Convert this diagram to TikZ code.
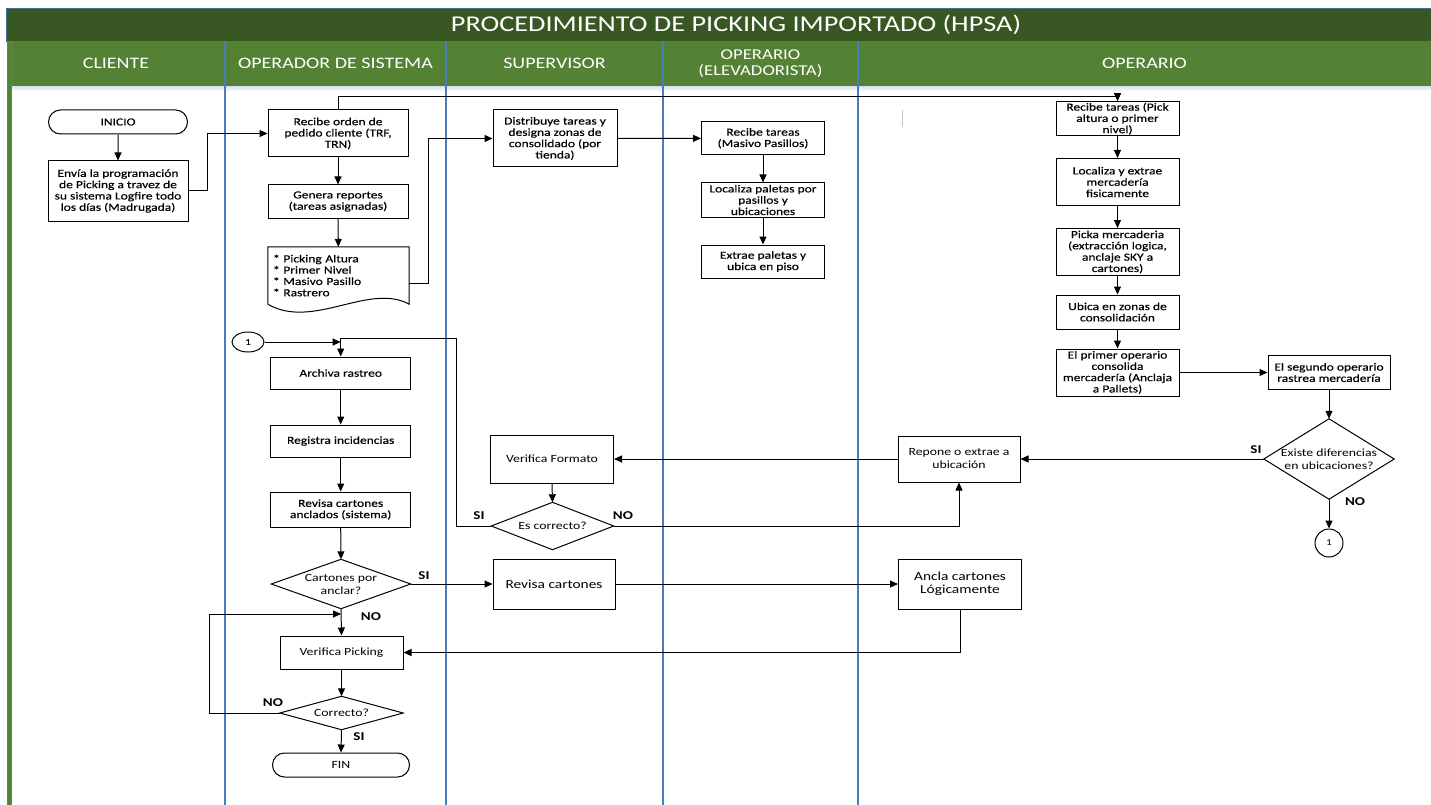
\documentclass[tikz,border=0pt]{standalone}
\usepackage{fontspec}
\setmainfont{Carlito}[FakeStretch=1.25]
\newfontfamily\heavyfam{Carlito}[FakeStretch=1.25, FakeBold=0.35]
\usetikzlibrary{arrows.meta,shapes.misc,shapes.geometric}
\definecolor{titlegreen}{HTML}{385723}
\definecolor{headgreen}{HTML}{548235}
\definecolor{laneblue}{HTML}{4A7EBB}
\definecolor{edgeblue}{HTML}{41719C}
\definecolor{haze}{HTML}{D6E3F3}
\newcommand\boxtxt{\heavyfam\fontsize{10.8}{11.3}\selectfont}
\newcommand\lowtxt{\fontsize{11}{13}\selectfont}
\newcommand\bigtxt{\fontsize{12.3}{13.5}\selectfont}
\newcommand\headtxt{\fontsize{16}{17}\selectfont}
\newcommand\titletxt{\fontsize{22.6}{24}\selectfont}
\newcommand\tagtxt{\bfseries\fontsize{12}{13}\selectfont}
\tikzset{
  line/.style={draw=black, line width=1pt},
  flow/.style={line, -{Triangle[length=8pt,width=7pt]}},
  stepbox/.style={draw=black, line width=1pt, fill=white, align=center, inner sep=1pt, font=\boxtxt},
  lowbox/.style={stepbox, font=\lowtxt},
  sz/.style 2 args={minimum width=#1pt, minimum height=#2pt},
  term/.style={rounded rectangle, draw=black, line width=1pt, inner sep=1pt, font=\boxtxt},
  decision/.style={inner sep=0pt, align=center, font=\lowtxt},
  conn/.style={ellipse, draw=black, line width=1pt, inner sep=0pt, font=\heavyfam\fontsize{9}{10}\selectfont},
  tag/.style={font=\tagtxt, inner sep=0pt},
  lane/.style={draw=laneblue, line width=1.5pt},
  headlabel/.style={text=white, font=\headtxt, align=center},
}
\begin{document}
\begin{tikzpicture}[x=1pt,y=-1pt]
\useasboundingbox (0,0) rectangle (1431,805);
\fill[white] (0,0) rectangle (1431,805);

% title bar and lane header
\filldraw[fill=titlegreen, draw=edgeblue, line width=0.8pt] (6.5,8) rectangle (1433,41);
\fill[headgreen] (6.5,41) rectangle (1433,86);
\draw[edgeblue, line width=0.8pt] (6.5,86) -- (1433,86);
\shade[top color=haze, bottom color=white] (11,86.6) rectangle (1431,91);
\node[text=white, font=\titletxt] (title) at (736,25) {PROCEDIMIENTO DE PICKING IMPORTADO (HPSA)};
\node[headlabel] (hcli) at (116,63.5) {CLIENTE};
\node[headlabel] (hops) at (335.5,63.5) {OPERADOR DE SISTEMA};
\node[headlabel] (hsup) at (554.5,63.5) {SUPERVISOR};
\node[headlabel, font=\fontsize{15}{15.5}\selectfont] (helev) at (760.5,63.5) {OPERARIO\\(ELEVADORISTA)};
\node[headlabel] (hopr) at (1144.5,63.5) {OPERARIO};

% lanes
\filldraw[fill=headgreen, draw=laneblue, line width=0.8pt] (7,41) rectangle (11,806);
\foreach \lx in {225,446,663,858} \draw[lane] (\lx,41) -- (\lx,806);
\draw[gray!45, line width=1pt] (902,110) -- (902,127);

% CLIENTE
\node[term, sz={141}{24}] (inicio) at (118,122) {INICIO};
\node[stepbox, sz={140}{60}] (envia) at (118,191) {Envía la programación\\de Picking a travez de\\su sistema Logfire todo\\los días (Madrugada)};

% OPERADOR DE SISTEMA
\node[stepbox, sz={140}{47}] (recibe) at (338,133.5) {Recibe orden de\\pedido cliente (TRF,\\TRN)};
\node[stepbox, sz={140}{33}] (genera) at (338,201.5) {Genera reportes\\(tareas asignadas)};
\node[inner sep=1pt, sz={141}{57}, text width=131pt, align=left, font=\boxtxt] (tipos) at (338.5,275.5)
  {* Picking Altura\\{}* Primer Nivel\\{}* Masivo Pasillo\\{}* Rastrero};
\draw[line] (tipos.south west) -- (tipos.north west) -- (tipos.north east) -- (tipos.south east)
  .. controls +(-40,-22) and +(45,26) .. (tipos.south west);
\node[conn, minimum width=32pt, minimum height=20pt] (c1a) at (248,342) {1};
\coordinate (j1) at (340.7,338);
\node[stepbox, sz={140}{32}] (archiva) at (340.7,373) {Archiva rastreo};
\node[stepbox, sz={140}{32}] (registra) at (340.7,441) {Registra incidencias};
\node[stepbox, sz={140}{35}] (revanc) at (340.7,509.5) {Revisa cartones\\anclados (sistema)};
\node[decision, sz={139}{49}] (cartones) at (341,584) {Cartones por\\anclar?};
\coordinate (jloop) at (341,614);
\node[lowbox, sz={123}{33}] (verpick) at (341.5,652.5) {Verifica Picking};
\node[decision, sz={123}{33}] (correcto) at (341.5,713) {Correcto?};
\node[term, sz={139}{24}, font=\lowtxt] (fin) at (341,765) {FIN};

% SUPERVISOR
\node[stepbox, sz={124}{57}] (distrib) at (555,138.5) {Distribuye tareas y\\designa zonas de\\consolidado (por\\tienda)};
\node[lowbox, sz={123}{48}] (verfor) at (552,459) {Verifica Formato};
\node[decision, sz={122}{47}] (escorr) at (552.5,526) {Es correcto?};
\node[stepbox, sz={122}{50}, font=\bigtxt] (revcart) at (554,584) {Revisa cartones};

% OPERARIO (ELEVADORISTA)
\node[stepbox, sz={123}{33}] (masivo) at (763,138.3) {Recibe tareas\\(Masivo Pasillos)};
\node[stepbox, sz={123}{34}] (localiza) at (763,200) {Localiza paletas por\\pasillos y\\ubicaciones};
\node[stepbox, sz={123}{33}] (extrae) at (763,261.5) {Extrae paletas y\\ubica en piso};

% OPERARIO
\node[stepbox, sz={123}{34}] (rtareas) at (1117.5,118.7) {Recibe tareas (Pick\\altura o primer\\nivel)};
\node[stepbox, sz={123}{47}] (locext) at (1117.5,182) {Localiza y extrae\\mercadería\\fisicamente};
\node[stepbox, sz={123}{47}] (picka) at (1117.5,252) {Picka mercaderia\\(extracción logica,\\anclaje SKY a\\cartones)};
\node[stepbox, sz={123}{34}] (ubica) at (1117.5,312) {Ubica en zonas de\\consolidación};
\node[stepbox, sz={123}{47}] (primer) at (1117.5,372.5) {El primer operario\\consolida\\mercadería (Anclaja\\a Pallets)};
\node[stepbox, sz={122}{34}] (segundo) at (1329,372.5) {El segundo operario\\rastrea mercadería};
\node[decision, sz={130}{80}] (existe) at (1329,459) {Existe diferencias\\en ubicaciones?};
\node[conn, minimum width=28pt, minimum height=28pt, font=\fontsize{9}{10}\selectfont] (c1b) at (1329,543) {1};
\node[lowbox, sz={122}{46}] (repone) at (959,459) {Repone o extrae a\\ubicación};
\node[stepbox, sz={123}{50}, font=\bigtxt] (ancla) at (960,584) {Ancla cartones\\Lógicamente};

% decision outlines
\foreach \d in {cartones,correcto,escorr,existe}
  \draw[line, line join=miter] (\d.north) -- (\d.east) -- (\d.south) -- (\d.west) -- cycle;

% connectors
\draw[flow] (inicio) -- (envia);
\draw[flow] (envia.east) -- ++(19,0) |- (recibe.west);
\draw[flow] (recibe.north) -- ++(0,-13) -| (rtareas.north);
\draw[flow] (recibe) -- (genera);
\draw[flow] (genera) -- (tipos);
\draw[flow] ([yshift=-8pt]tipos.east) -- ++(19,0) |- (distrib.west);
\draw[flow] (distrib) -- (masivo);
\draw[flow] (masivo) -- (localiza);
\draw[flow] (localiza) -- (extrae);
\draw[flow] (rtareas) -- (locext);
\draw[flow] (locext) -- (picka);
\draw[flow] (picka) -- (ubica);
\draw[flow] (ubica) -- (primer);
\draw[flow] (primer) -- (segundo);
\draw[flow] (segundo) -- (existe);
\draw[flow] (existe.west) -- (repone.east);
\draw[flow] (existe.south) -- (c1b.north);
\draw[flow] (repone.west) -- (verfor.east);
\draw[flow] (verfor.south) -- (escorr.north);
\draw[flow] (escorr.east) -| (repone.south);
\draw[line] (escorr.west) -- ++(-34.5,0) |- (j1);
\draw[flow] (c1a.east) -- (c1a.east -| archiva.north);
\draw[flow] (j1) -- (archiva.north);
\draw[flow] (archiva) -- (registra);
\draw[flow] (registra) -- (revanc);
\draw[flow] (revanc.south) -- (cartones.north);
\draw[flow] (cartones.east) -- (revcart.west);
\draw[flow] (revcart) -- (ancla);
\draw[flow] (ancla.south) |- (verpick.east);
\draw[flow] (cartones.south) -- (verpick.north);
\draw[flow] (verpick.south) -- (correcto.north);
\draw[flow] (correcto.west) -- ++(-70.5,0) |- (jloop);
\draw[flow] (correcto.south) -- (fin.north);

% branch labels
\node[tag] (siexi) at (1256,450) {SI};
\node[tag] (noexi) at (1355,502) {NO};
\node[tag] (sies) at (479,516) {SI};
\node[tag] (noes) at (623,516) {NO};
\node[tag] (sicar) at (424,576) {SI};
\node[tag] (nocar) at (371,617) {NO};
\node[tag] (nocor) at (273,703) {NO};
\node[tag] (sicor) at (359,737) {SI};
\end{tikzpicture}
\end{document}
